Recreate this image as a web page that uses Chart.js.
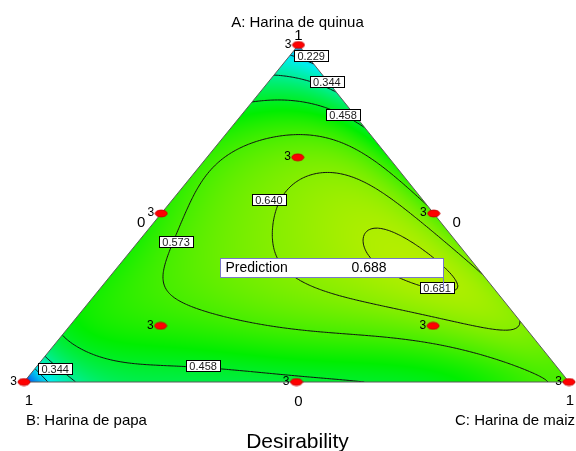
<!DOCTYPE html>
<html>
<head>
<meta charset="utf-8">
<script src="https://cdn.jsdelivr.net/npm/chart.js@4.4.0/dist/chart.umd.min.js"></script>
<style>
  html, body { margin: 0; padding: 0; background: #ffffff; }
  canvas { display: block; }
</style>
</head>
<body>
<canvas id="chart" width="576" height="451"></canvas>
<script>
// Mixture components (vertex names) and tick labels at vertices / opposite edges
const componentNames = ['A: Harina de quinua', 'B: Harina de papa', 'C: Harina de maiz'];
const vertexTick = '1';
const edgeTick = '0';
const chartTitle = 'Desirability';

// Design points (component fractions) and their replicate counts
const designA = [1, 0, 0, 0.5, 0.5, 0, 2/3, 1/6, 1/6];
const designB = [0, 1, 0, 0.5, 0, 0.5, 1/6, 2/3, 1/6];
const designC = [0, 0, 1, 0, 0.5, 0.5, 1/6, 1/6, 2/3];
const replicates = [3, 3, 3, 3, 3, 3, 3, 3, 3];

// Contour levels of the desirability surface
const contourLevels = [0.229, 0.344, 0.458, 0.573, 0.640, 0.681];

// Contour labels: level shown and where it sits (fractions of A and C)
const labelLevel = [0.229, 0.344, 0.458, 0.640, 0.573, 0.344, 0.458, 0.681];
const labelA     = [0.969, 0.893, 0.795, 0.543, 0.417, 0.040, 0.049, 0.280];
const labelC     = [0.039, 0.106, 0.185, 0.176, 0.069, 0.037, 0.304, 0.617];

// Flagged prediction (fractions A, B, C) and its desirability
const predictionPoint = [0.273, 0.095, 0.632];
const predictionValue = 0.688;

// Desirability readings over the simplex: [A, C, desirability, weight]
const surfaceReadings = [
  // vertices, blends, axial points and centroid
  [1, 0, 0.17, 2], [0, 0, 0.04, 2], [0, 1, 0.573, 2],
  [0.5, 0, 0.55], [0.5, 0.5, 0.573], [0, 0.5, 0.445],
  [2/3, 1/6, 0.61], [1/6, 1/6, 0.53], [1/6, 2/3, 0.615], [1/3, 1/3, 0.642],
  // edge A-B
  [0.3, 0, 0.54], [0.7, 0, 0.53],
  // edge B-C
  [0, 0.2, 0.41], [0, 0.35, 0.435], [0, 0.55, 0.447], [0, 0.6, 0.451], [0, 0.7, 0.47], [0, 0.85, 0.52],
  // edge A-C
  [0.65, 0.35, 0.515], [0.4, 0.6, 0.61], [0.25, 0.75, 0.655], [0.1, 0.9, 0.61],
  // interior
  [0.3, 0.05, 0.55], [0.5, 0.03, 0.56], [0.1, 0.3, 0.50], [0.05, 0.6, 0.50], [0.1, 0.5, 0.53],
  [0.8, 0.05, 0.50], [0.85, 0.1, 0.42], [0.5, 0.3, 0.662], [0.45, 0.25, 0.645], [0.2, 0.4, 0.59],
  [0.35, 0.45, 0.673], [0.510, 0.3216, 0.663], [0.421, 0.330, 0.664], [0.466, 0.453, 0.668],
  [0.214, 0.707, 0.648], [0.273, 0.714, 0.655], [0.332, 0.392, 0.662],
  // level 0.229
  [0.95, 0, 0.229], [0.94, 0.06, 0.229],
  // level 0.344
  [0.92, 0, 0.344], [0.896, 0.074, 0.344], [0.86, 0.14, 0.344],
  [0.065, 0, 0.344], [0.0208, 0.055, 0.344], [0, 0.0985, 0.344],
  // level 0.458
  [0.846, 0, 0.458], [0.831, 0.088, 0.458], [0.807, 0.148, 0.458], [0.77, 0.23, 0.458],
  [0.169, 0, 0.458], [0.125, 0.036, 0.458], [0.086, 0.090, 0.458], [0.056, 0.171, 0.458],
  [0.0415, 0.277, 0.458], [0.025, 0.40, 0.458], [0.0148, 0.491, 0.458], [0.007, 0.58, 0.458],
  [0, 0.650, 0.458],
  // level 0.573
  [0.504, 0.496, 0.573], [0.629, 0.348, 0.573], [0.697, 0.228, 0.573], [0.733, 0.137, 0.573],
  [0.739, 0.079, 0.573], [0.727, 0.049, 0.573], [0.605, 0.037, 0.573], [0.540, 0.051, 0.573],
  [0.421, 0.074, 0.573], [0.347, 0.0875, 0.573], [0.243, 0.127, 0.573], [0.205, 0.158, 0.573],
  [0.190, 0.263, 0.573], [0.154, 0.469, 0.573], [0.089, 0.733, 0.573],
  // level 0.640
  [0.323, 0.677, 0.640, 2], [0.421, 0.561, 0.640, 2], [0.549, 0.412, 0.640, 2], [0.620, 0.272, 0.640, 2],
  [0.623, 0.210, 0.640, 2], [0.576, 0.183, 0.640, 2], [0.472, 0.209, 0.640, 2], [0.368, 0.279, 0.640, 2],
  [0.323, 0.338, 0.640, 2], [0.258, 0.420, 0.640, 2], [0.223, 0.538, 0.640, 2], [0.205, 0.675, 0.640, 2],
  [0.184, 0.816, 0.640, 2],
  // level 0.681
  [0.415, 0.420, 0.681, 3], [0.430, 0.447, 0.681, 3], [0.362, 0.554, 0.681, 3], [0.279, 0.669, 0.681, 3],
  [0.264, 0.658, 0.681, 3], [0.267, 0.589, 0.681, 3], [0.312, 0.517, 0.681, 3], [0.383, 0.440, 0.681, 3],
  // peak region
  [0.338, 0.5445, 0.690, 2], [0.32, 0.58, 0.690, 2], [0.273, 0.632, 0.688, 2]
];

const MODEL_DEGREE = 6;
const APEX_X = 0.5036;   // horizontal position of the A vertex along the B-C base
const FONT = '"Liberation Sans", Arial, sans-serif';

// Homogeneous monomials A^i B^j C^k with i+j+k = degree (Scheffe form)
function monomials(a, b, c, deg) {
  const out = [];
  for (let i = deg; i >= 0; i--) {
    for (let j = deg - i; j >= 0; j--) {
      const k = deg - i - j;
      out.push(Math.pow(a, i) * Math.pow(b, j) * Math.pow(c, k));
    }
  }
  return out;
}

// Weighted least-squares mixture polynomial through the readings
function fitSurface(rows, deg) {
  const n = monomials(0.3, 0.3, 0.4, deg).length;
  const M = Array.from({ length: n }, () => new Float64Array(n + 1));
  for (const [a, c, d, wt = 1] of rows) {
    const f = monomials(a, 1 - a - c, c, deg);
    for (let i = 0; i < n; i++) {
      for (let j = 0; j < n; j++) M[i][j] += wt * f[i] * f[j];
      M[i][n] += wt * f[i] * d;
    }
  }
  for (let i = 0; i < n; i++) M[i][i] += 1e-11;
  for (let col = 0; col < n; col++) {
    let p = col;
    for (let r = col + 1; r < n; r++) if (Math.abs(M[r][col]) > Math.abs(M[p][col])) p = r;
    const tmp = M[col]; M[col] = M[p]; M[p] = tmp;
    for (let r = 0; r < n; r++) {
      if (r === col) continue;
      const f = M[r][col] / M[col][col];
      for (let k = col; k <= n; k++) M[r][k] -= f * M[col][k];
    }
  }
  return M.map((row, i) => row[n] / row[i]);
}

const coef = fitSurface(surfaceReadings, MODEL_DEGREE);
function desirability(a, b, c) {
  a = Math.max(0, a); b = Math.max(0, b); c = Math.max(0, c);
  const s = a + b + c; a /= s; b /= s; c /= s;
  const f = monomials(a, b, c, MODEL_DEGREE);
  let d = 0;
  for (let i = 0; i < f.length; i++) d += coef[i] * f[i];
  return d;
}

// blue -> cyan -> green -> yellow -> red over desirability 0..1
function colorFor(d) {
  const t = Math.max(0, Math.min(1, d)) * 4;
  let r, g, b;
  if (t < 1) { r = 0; g = t; b = 1; }
  else if (t < 2) { r = 0; g = 1; b = 2 - t; }
  else if (t < 3) { r = t - 2; g = 1; b = 0; }
  else { r = 1; g = 4 - t; b = 0; }
  const k = 238;
  return [r * k, g * k, b * k];
}

// ternary (A, C) -> cartesian data coordinates
const toXY = (a, c) => ({ x: c + a * APEX_X, y: a });

function ellipseStyle() {
  const cv = document.createElement('canvas');
  cv.width = 14; cv.height = 9;
  const g = cv.getContext('2d');
  g.beginPath();
  g.ellipse(7, 4.5, 6, 3.4, 0, 0, Math.PI * 2);
  g.fillStyle = '#ff0000';
  g.fill();
  g.lineWidth = 1;
  g.strokeStyle = '#c80000';
  g.stroke();
  return cv;
}

const surfacePlugin = {
  id: 'mixtureSurface',
  beforeDatasetsDraw(chart) {
    const { ctx, scales: { x, y } } = chart;
    const px = (a, c) => [x.getPixelForValue(c + a * APEX_X), y.getPixelForValue(a)];
    const [ax, ay] = px(1, 0), [bx, by] = px(0, 0), [cx, cy] = px(0, 1);
    const tri = () => { ctx.beginPath(); ctx.moveTo(ax, ay); ctx.lineTo(bx, by); ctx.lineTo(cx, cy); ctx.closePath(); };

    // filled surface
    const left = Math.floor(Math.min(ax, bx, cx)) - 1, right = Math.ceil(Math.max(ax, bx, cx)) + 1;
    const top = Math.floor(Math.min(ay, by, cy)) - 1, bottom = Math.ceil(Math.max(ay, by, cy)) + 1;
    const w = right - left, h = bottom - top;
    const off = document.createElement('canvas');
    off.width = w; off.height = h;
    const octx = off.getContext('2d');
    const img = octx.createImageData(w, h);
    for (let j = 0; j < h; j++) {
      const a = y.getValueForPixel(top + j + 0.5);
      for (let i = 0; i < w; i++) {
        const xv = x.getValueForPixel(left + i + 0.5);
        const c = xv - a * APEX_X, b = 1 - a - c;
        if (a < -0.02 || b < -0.02 || c < -0.02) continue;
        const col = colorFor(desirability(a, b, c));
        const o = (j * w + i) * 4;
        img.data[o] = col[0]; img.data[o + 1] = col[1]; img.data[o + 2] = col[2]; img.data[o + 3] = 255;
      }
    }
    octx.putImageData(img, 0, 0);
    ctx.save();
    tri();
    ctx.clip();
    ctx.drawImage(off, left, top);

    // contour lines by marching triangles on a ternary lattice
    const N = 160;
    const val = [];
    for (let i = 0; i <= N; i++) {
      val[i] = [];
      for (let j = 0; j <= N - i; j++) {
        const a = i / N, c = j / N;
        val[i][j] = desirability(a, 1 - a - c, c);
      }
    }
    ctx.lineWidth = 1;
    ctx.strokeStyle = '#111111';
    const seg = (p, q, lvl) => {
      const [pa, pc, pv] = p, [qa, qc, qv] = q;
      if ((pv - lvl) * (qv - lvl) >= 0 && !(pv === lvl && qv !== lvl)) return null;
      const t = (lvl - pv) / (qv - pv);
      return px(pa + t * (qa - pa), pc + t * (qc - pc));
    };
    for (const lvl of contourLevels) {
      ctx.beginPath();
      const handle = (p, q, r) => {
        const pts = [seg(p, q, lvl), seg(q, r, lvl), seg(r, p, lvl)].filter(Boolean);
        if (pts.length >= 2) { ctx.moveTo(pts[0][0], pts[0][1]); ctx.lineTo(pts[1][0], pts[1][1]); }
      };
      for (let i = 0; i < N; i++) {
        for (let j = 0; j < N - i; j++) {
          const p = [i / N, j / N, val[i][j]];
          const q = [(i + 1) / N, j / N, val[i + 1][j]];
          const r = [i / N, (j + 1) / N, val[i][j + 1]];
          handle(p, q, r);
          if (j < N - i - 1) {
            const s = [(i + 1) / N, (j + 1) / N, val[i + 1][j + 1]];
            handle(q, s, r);
          }
        }
      }
      ctx.stroke();
    }
    ctx.restore();

    // outline
    ctx.save();
    tri();
    ctx.lineWidth = 1;
    ctx.strokeStyle = '#5a5a5a';
    ctx.stroke();
    ctx.restore();

    // contour labels
    ctx.save();
    ctx.font = '11px ' + FONT;
    ctx.textAlign = 'center';
    ctx.textBaseline = 'middle';
    labelLevel.forEach((lvl, k) => {
      const [lx, ly] = px(labelA[k], labelC[k]);
      const txt = lvl.toFixed(3);
      const tw = ctx.measureText(txt).width + 6;
      const bx0 = Math.round(lx - tw / 2) + 0.5, by0 = Math.round(ly - 5.5) + 0.5;
      ctx.fillStyle = '#ffffff';
      ctx.fillRect(bx0, by0, Math.round(tw), 11);
      ctx.strokeStyle = '#000000';
      ctx.lineWidth = 1;
      ctx.strokeRect(bx0, by0, Math.round(tw), 11);
      ctx.fillStyle = '#1a1a1a';
      ctx.fillText(txt, lx, by0 + 6);
    });
    ctx.restore();
  },
  afterDatasetsDraw(chart) {
    const { ctx, scales: { x, y } } = chart;
    const px = (a, c) => [x.getPixelForValue(c + a * APEX_X), y.getPixelForValue(a)];
    const meta = chart.getDatasetMeta(0);
    ctx.save();
    ctx.fillStyle = '#000000';

    // replicate counts beside each design point
    ctx.font = '12px ' + FONT;
    ctx.textAlign = 'right';
    ctx.textBaseline = 'middle';
    meta.data.forEach((el, i) => {
      ctx.fillText(String(replicates[i]), el.x - 7, el.y - 0.5);
    });

    // vertex names and tick labels
    const [ax, ay] = px(1, 0), [bx, by] = px(0, 0), [cx, cy] = px(0, 1);
    ctx.font = '15px ' + FONT;
    ctx.textAlign = 'center';
    ctx.textBaseline = 'middle';
    ctx.fillText(vertexTick, ax, ay - 9);
    ctx.fillText(vertexTick, bx + 5, by + 19);
    ctx.fillText(vertexTick, cx + 1, cy + 19);
    const [mabx, maby] = px(0.5, 0), [macx, macy] = px(0.5, 0.5), [mbcx, mbcy] = px(0, 0.5);
    ctx.fillText(edgeTick, mabx - 20, maby + 9);
    ctx.fillText(edgeTick, macx + 23, macy + 9);
    ctx.fillText(edgeTick, mbcx + 2, mbcy + 20);

    ctx.font = '15px ' + FONT;
    ctx.textBaseline = 'alphabetic';
    ctx.textAlign = 'center';
    ctx.fillText(componentNames[0], ax - 1, ay - 18);
    ctx.textAlign = 'left';
    ctx.fillText(componentNames[1], bx + 2, by + 43);
    ctx.fillText(componentNames[2], cx - 114, cy + 43);

    ctx.font = '21px ' + FONT;
    ctx.textAlign = 'center';
    ctx.fillText(chartTitle, mbcx + 1, mbcy + 66);

    // flagged prediction box with leader line
    const [ppx, ppy] = px(predictionPoint[0], predictionPoint[2]);
    const boxR = Math.round(ppx) + 0.5, boxB = Math.round(ppy) - 13 + 0.5;
    const boxW = 223, boxH = 19;
    ctx.strokeStyle = '#7878c8';
    ctx.lineWidth = 1;
    ctx.beginPath();
    ctx.moveTo(boxR, boxB);
    ctx.lineTo(boxR, Math.round(ppy));
    ctx.stroke();
    ctx.fillStyle = '#ffffff';
    ctx.fillRect(boxR - boxW, boxB - boxH, boxW, boxH);
    ctx.strokeRect(boxR - boxW, boxB - boxH, boxW, boxH);
    ctx.fillStyle = '#000000';
    ctx.font = '14px ' + FONT;
    ctx.textAlign = 'left';
    ctx.textBaseline = 'middle';
    ctx.fillText('Prediction', boxR - boxW + 5, boxB - boxH / 2 + 0.5);
    ctx.fillText(predictionValue.toFixed(3), boxR - boxW + 131, boxB - boxH / 2 + 0.5);
    ctx.restore();
  }
};

new Chart(document.getElementById('chart'), {
  type: 'scatter',
  data: {
    datasets: [{
      label: 'Design points',
      data: designA.map((a, i) => toXY(a, designC[i])),
      pointStyle: ellipseStyle(),
      pointRadius: 6,
      clip: false
    }]
  },
  options: {
    responsive: false,
    animation: false,
    events: [],
    layout: { padding: { left: 24, right: 4, top: 45, bottom: 69 } },
    scales: {
      x: { type: 'linear', min: 0, max: 1, display: false },
      y: { type: 'linear', min: 0, max: 1, display: false }
    },
    plugins: { legend: { display: false }, tooltip: { enabled: false } }
  },
  plugins: [surfacePlugin]
});
</script>
</body>
</html>
